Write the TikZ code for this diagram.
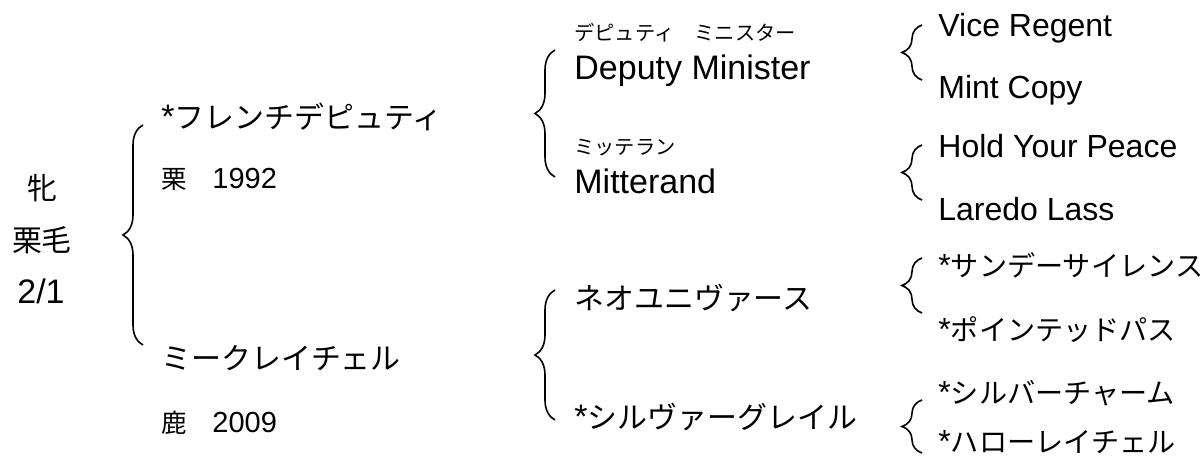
\documentclass[tikz,border=0pt]{standalone}
\usepackage{fontspec}
\setmainfont{Liberation Sans}
\newfontfamily\jpfont{Noto Sans CJK JP}[Scale=0.88]
\usetikzlibrary{decorations.pathreplacing}
\tikzset{
  brc/.style={decorate,decoration={brace,amplitude=10pt},line width=0.8pt},
  big/.style={inner sep=0pt,font=\fontsize{17pt}{20pt}\selectfont},
  mid/.style={inner sep=0pt,font=\fontsize{16pt}{19pt}\selectfont},
  sml/.style={inner sep=0pt,font=\fontsize{14.5pt}{17pt}\selectfont},
  ruby/.style={inner sep=0pt,font=\fontsize{11.5pt}{14pt}\selectfont}
}
\begin{document}
\begin{tikzpicture}[x=0.5pt,y=-0.5pt]
\useasboundingbox (0,0) rectangle (1204,460);
\node[big] (sex) at (42,188) {\jpfont 牝};
\node[big] (coat) at (42,240) {\jpfont 栗毛};
\node[big,anchor=base] (born) at (41,303) {2/1};

\node[big,anchor=west] (sire) at (161,117) {*\jpfont フレンチデピュティ};
\node[sml,anchor=base west] (sireinfo) at (161,188) {{\jpfont 栗　}1992};
\node[big,anchor=west] (dam) at (161,358) {\jpfont ミークレイチェル};
\node[sml,anchor=base west] (daminfo) at (161,432) {{\jpfont 鹿　}2009};
\coordinate (b0t) at (143,125); \coordinate (b0b) at (143,345);
\draw[brc] (b0b) -- (b0t);

\node[ruby,anchor=west] (sskana) at (574,33) {\jpfont デピュティ　ミニスター};
\node[big,anchor=base west] (ss) at (574,80) {Deputy Minister};
\node[ruby,anchor=west] (sdkana) at (574,148) {\jpfont ミッテラン};
\node[big,anchor=base west] (sd) at (574,193) {Mitterand};
\node[big,anchor=west] (ds) at (574,298) {\jpfont ネオユニヴァース};
\node[big,anchor=west] (dd) at (574,417) {*\jpfont シルヴァーグレイル};
\coordinate (b1t) at (555,50); \coordinate (b1b) at (555,177);
\coordinate (b2t) at (555,290); \coordinate (b2b) at (555,420);
\draw[brc] (b1b) -- (b1t);
\draw[brc] (b2b) -- (b2t);

\node[mid,anchor=base west] (sss) at (938,37) {Vice Regent};
\node[mid,anchor=base west] (ssd) at (938,98) {Mint Copy};
\node[mid,anchor=base west] (sds) at (938,157) {Hold Your Peace};
\node[mid,anchor=base west] (sdd) at (938,220) {Laredo Lass};
\node[mid,anchor=west] (dss) at (938,265) {*\jpfont サンデーサイレンス};
\node[mid,anchor=west] (dsd) at (938,330) {*\jpfont ポインテッドパス};
\node[mid,anchor=west] (dds) at (938,393) {*\jpfont シルバーチャーム};
\node[mid,anchor=west] (ddd) at (938,442) {*\jpfont ハローレイチェル};
\coordinate (b3t) at (922,25); \coordinate (b3b) at (922,80);
\coordinate (b4t) at (922,145); \coordinate (b4b) at (922,200);
\coordinate (b5t) at (922,258); \coordinate (b5b) at (922,313);
\coordinate (b6t) at (922,400); \coordinate (b6b) at (922,453);
\draw[brc] (b3b) -- (b3t);
\draw[brc] (b4b) -- (b4t);
\draw[brc] (b5b) -- (b5t);
\draw[brc] (b6b) -- (b6t);
\end{tikzpicture}
\end{document}
